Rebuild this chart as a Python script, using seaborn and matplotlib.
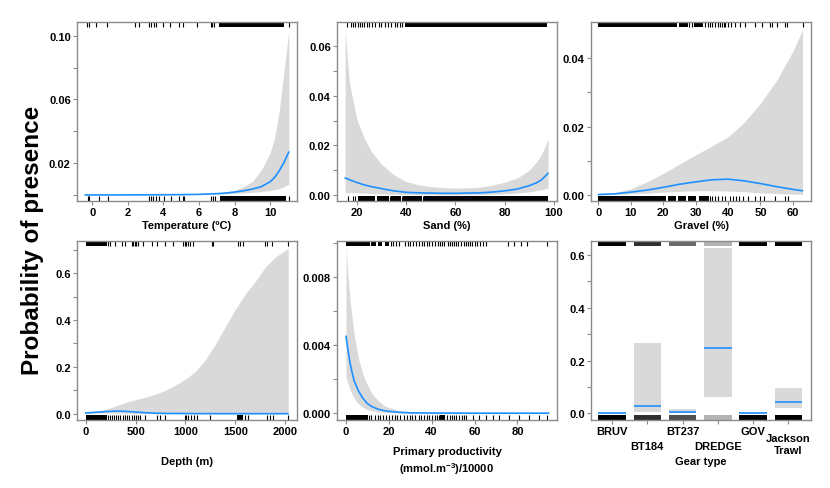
import matplotlib
matplotlib.use("Agg")
import matplotlib.pyplot as plt
import seaborn as sns

# ---- Temperature ----
temp_x = [-0.4, 1, 3, 5, 6, 7, 7.5, 8, 8.5, 9, 9.5, 10, 10.25, 10.5, 10.75, 11.05]
temp_fit = [0.0, 0.0, 0.0001, 0.0002, 0.0004, 0.0008, 0.0012, 0.0018, 0.0026, 0.0037,
            0.0052, 0.0083, 0.0110, 0.0150, 0.0198, 0.0270]
temp_lo = [0.0, 0.0, 0.0, 0.0001, 0.0002, 0.0005, 0.0007, 0.0010, 0.0013, 0.0017,
           0.0021, 0.0028, 0.0034, 0.0040, 0.0050, 0.0068]
temp_hi = [0.0001, 0.0001, 0.0002, 0.0004, 0.0007, 0.0011, 0.0017, 0.0029, 0.0052, 0.0085,
           0.0155, 0.0265, 0.0360, 0.0520, 0.0750, 0.1030]
temp_rug_top = [-0.3, -0.2, 0.2, 0.8, 2.4, 2.65, 3.2, 3.3, 3.45, 3.6, 3.95, 4.35, 4.9, 5.1,
                5.9, 6.65, 6.75, 6.85, 11.05]
temp_blk_top = [(7.15, 10.8)]
temp_rug_bot = [-0.26, -0.17, 0.39, 0.86, 3.2, 3.3, 3.39, 3.58, 3.77, 4.05, 4.42, 4.89,
                5.08, 5.17, 6.67, 6.76, 6.91, 11.05]
temp_blk_bot = [(7.18, 10.88)]

# ---- Sand ----
sand_x = [15.3, 17, 20, 23, 26, 30, 35, 40, 45, 50, 55, 60, 65, 70, 75, 80, 85, 90, 93, 95, 97.6]
sand_fit = [0.0069, 0.0062, 0.0051, 0.0041, 0.0034, 0.0026, 0.0017, 0.0011, 0.0009, 0.0008,
            0.0007, 0.0007, 0.0008, 0.0009, 0.0012, 0.0017, 0.0024, 0.0038, 0.0050, 0.0062, 0.0088]
sand_lo = [0.0010, 0.0010, 0.0009, 0.0008, 0.0006, 0.0005, 0.0003, 0.0002, 0.0001, 0.0001,
           0.0001, 0.0001, 0.0001, 0.0002, 0.0003, 0.0005, 0.0008, 0.0013, 0.0018, 0.0021, 0.0028]
sand_hi = [0.0663, 0.0455, 0.0307, 0.0230, 0.0175, 0.0125, 0.0082, 0.0054, 0.0042, 0.0034,
           0.0030, 0.0028, 0.0029, 0.0032, 0.0040, 0.0052, 0.0068, 0.0100, 0.0135, 0.0165, 0.0226]
sand_rug_top = [16.2, 17.5, 18.5, 19.5, 20.5, 21.5, 22, 23, 24, 25, 26, 27.5, 29, 30, 31.5,
                32.5, 34, 35.5, 36.5, 37.5, 38.5]
sand_blk_top = [(39.5, 97.0)]
sand_rug_bot = [16.5, 18.5, 19.5, 28.2, 33.6, 38.4, 47.0]
sand_blk_bot = [(20.5, 27.6), (28.4, 33.1), (33.9, 38.0), (38.8, 46.5), (47.3, 97.5)]

# ---- Gravel ----
grav_x = [0, 5, 10, 15, 20, 25, 30, 35, 40, 45, 50, 55, 60, 63]
grav_fit = [0.0001, 0.0003, 0.0008, 0.0014, 0.0022, 0.0031, 0.0038, 0.0044, 0.0046, 0.0041,
            0.0033, 0.0024, 0.0016, 0.0012]
grav_lo = [0.0, 0.0001, 0.0003, 0.0005, 0.0008, 0.0010, 0.0012, 0.0012, 0.0011, 0.0009,
           0.0006, 0.0004, 0.0002, 0.0001]
grav_hi = [0.0001, 0.0006, 0.0018, 0.0038, 0.0063, 0.0090, 0.0117, 0.0143, 0.0170, 0.0212,
           0.0268, 0.0335, 0.0420, 0.0483]
grav_rug_top = [28, 28.9, 33, 33.9, 34.5, 35, 36, 37, 37.5, 38.1, 38.6, 39.1, 40.1, 41, 42.2,
                43.7, 45.3, 48.4, 50.4, 53, 53.5, 55, 57.6, 58.1, 63]
grav_blk_top = [(0, 24.3), (24.8, 27.5), (29.6, 32.4)]
grav_rug_bot = [34.5, 35, 36, 37, 38, 39, 40.5, 41.5, 42.5, 43.5, 44.5, 46.3, 48.4, 49.9,
                51, 54.6, 57.6, 58.4]
grav_blk_bot = [(0, 21.0), (21.5, 24.0), (24.5, 27.0), (27.5, 30.0), (31.0, 34.0)]

# ---- Depth ----
depth_x = [0, 100, 200, 300, 400, 500, 600, 700, 800, 900, 1000, 1100, 1200, 1300, 1400,
           1500, 1600, 1700, 1800, 1900, 2030]
depth_fit = [0.003, 0.006, 0.009, 0.011, 0.010, 0.007, 0.004, 0.002, 0.001, 0.001, 0.0005,
             0.0003, 0.0002, 0.0001, 0.0, 0.0, 0.0, 0.0, 0.0, 0.0, 0.0]
depth_lo = [0.001, 0.002, 0.003, 0.003, 0.002, 0.001, 0.0005, 0.0, 0.0, 0.0, 0.0, 0.0, 0.0,
            0.0, 0.0, 0.0, 0.0, 0.0, 0.0, 0.0, 0.0]
depth_hi = [0.003, 0.008, 0.018, 0.033, 0.048, 0.060, 0.070, 0.083, 0.100, 0.122, 0.148,
            0.180, 0.230, 0.297, 0.372, 0.445, 0.510, 0.565, 0.625, 0.668, 0.705]
depth_rug_top = [227, 243, 293, 360, 394, 460, 475, 490, 505, 527, 577, 661, 711, 795, 878,
                 978, 995, 1010, 1030, 1050, 1078, 1262, 1279, 1529, 1546, 1579, 1796, 1813,
                 1863, 2030]
depth_blk_top = [(0, 210)]
depth_rug_bot = [227, 243, 260, 280, 300, 320, 345, 370, 390, 410, 430, 460, 480, 500, 520,
                 544, 594, 711, 745, 795, 995, 1010, 1030, 1060, 1090, 1112, 1246, 1600, 1630,
                 1813, 1846, 1880, 2030]
depth_blk_bot = [(0, 210), (1520, 1580)]

# ---- Primary productivity ----
pp_x = [0.2, 1, 2, 3, 4, 5, 6, 8, 10, 12, 15, 18, 20, 25, 30, 40, 60, 80, 94.6]
pp_fit = [0.00452, 0.0038, 0.0030, 0.0024, 0.0019, 0.0016, 0.0013, 0.00088, 0.00058, 0.00040,
          0.00024, 0.00015, 0.00011, 0.00005, 0.00002, 0.00001, 0.0, 0.0, 0.0]
pp_lo = [0.0021, 0.0018, 0.0014, 0.0011, 0.0009, 0.0007, 0.00055, 0.00035, 0.00022, 0.00014,
         0.00007, 0.00004, 0.00003, 0.00001, 0.0, 0.0, 0.0, 0.0, 0.0]
pp_hi = [0.0097, 0.0082, 0.0067, 0.0056, 0.0046, 0.0039, 0.0032, 0.0023, 0.0017, 0.0012,
         0.00075, 0.00045, 0.00034, 0.00016, 0.00008, 0.00003, 0.00001, 0.0, 0.0]
pp_rug_top = [21, 22, 23.5, 25, 27.5, 29, 30, 31.5, 33, 34, 35.5, 36.5, 38, 39, 40, 41.5, 43,
              44, 45, 46, 47.5, 48.5, 49.5, 50.5, 51.5, 52.5, 53.5, 55, 56, 57, 58, 59, 60,
              61, 62.5, 64, 65.5, 75.4, 78.4, 81.6, 84.6, 93.9]
pp_blk_top = [(0, 11.3), (12, 14), (15, 17), (18.5, 20)]
pp_rug_bot = [11, 12, 13.5, 15, 16, 17.5, 19, 20, 21.5, 23, 24, 25.5, 27, 28.5, 30, 31, 32.5,
              34, 35, 36.5, 38, 39, 40, 41.5, 42.5, 43.5, 45, 46, 47, 48.5, 49.5, 50.5, 51.5,
              53, 54, 55, 56, 59.2, 62.2, 65.3, 68.4, 71.5, 76.1, 80.8, 85.4, 90, 93.9]
pp_blk_bot = [(0, 10.2), (44, 46.5)]

# ---- Gear type ----
gear_types = ["BRUV", "BT184", "BT237", "DREDGE", "GOV", "Jackson\nTrawl"]
gear_fit = [0.001, 0.029, 0.004, 0.246, 0.002, 0.045]
gear_lo = [0.0, 0.004, 0.0, 0.061, 0.0, 0.021]
gear_hi = [0.006, 0.268, 0.016, 0.627, 0.006, 0.098]
gear_rug_top = ['black', '#303030', '#6a6a6a', '#b4b4b4', 'black', 'black']
gear_rug_bot = ['black', '#303030', '#505050', '#b4b4b4', 'black', 'black']

LINE = '#1E90FF'
BAND = '#D9D9D9'
FRAME = '#8a8a8a'
RUG_H = 0.028

sns.set_style("white")
plt.rcParams['font.family'] = ['Liberation Sans', 'DejaVu Sans']
plt.rcParams['font.weight'] = 'bold'
plt.rcParams['text.color'] = 'black'
plt.rcParams['axes.labelcolor'] = 'black'
plt.rcParams['mathtext.fontset'] = 'custom'
plt.rcParams['mathtext.rm'] = 'Liberation Sans:bold'
plt.rcParams['mathtext.bf'] = 'Liberation Sans:bold'


def style_axes(ax, xlim, xticks, ylim, yticks, ylabels, label_y):
    ax.set_xlim(*xlim)
    ax.set_ylim(*ylim)
    if xticks is not None:
        ax.set_xticks(xticks)
        ax.set_xticklabels([str(t) for t in xticks])
    ax.set_yticks(yticks)
    ax.set_yticklabels(ylabels)
    for sp in ax.spines.values():
        sp.set_visible(True)
        sp.set_color(FRAME)
        sp.set_linewidth(1.0)
    ax.tick_params(axis='both', direction='out', length=3, width=0.8, color=FRAME,
                   labelsize=8, labelcolor='black', pad=1.5)
    ax.tick_params(top=False, right=False, left=True, bottom=True)
    for lab in ax.get_xticklabels() + ax.get_yticklabels():
        lab.set_fontweight('bold')
    ax.xaxis.set_label_coords(0.5, label_y)
    ax.xaxis.label.set_va('center')
    ax.set_ylabel('')


def draw_rug(ax, ticks, blocks, top):
    y0, y1 = (1 - RUG_H, 1) if top else (0, RUG_H)
    ax.vlines(ticks, y0, y1, transform=ax.get_xaxis_transform(), color='black', lw=0.8)
    for a, b in blocks:
        ax.axvspan(a, b, ymin=y0, ymax=y1, color='black', lw=0)


def plot_term(ax, x, fit, lo, hi, rug_top, blk_top, rug_bot, blk_bot):
    ax.fill_between(x, lo, hi, color=BAND, lw=0)
    sns.lineplot(x=x, y=fit, ax=ax, color=LINE, lw=1.2)
    draw_rug(ax, rug_top, blk_top, True)
    draw_rug(ax, rug_bot, blk_bot, False)


fig = plt.figure(figsize=(8.3, 4.89), dpi=100)
lefts = [77 / 830, 337 / 830, 591 / 830]
width = 220 / 830
bottoms = [1 - 202 / 489, 1 - 421 / 489]
height = 179 / 489
axs = [[fig.add_axes([l, b, width, height]) for l in lefts] for b in bottoms]
TOP_LAB = (202 - 226) / 179
BOT_LAB = (421 - 462) / 179

# Temperature
ax = axs[0][0]
plot_term(ax, temp_x, temp_fit, temp_lo, temp_hi, temp_rug_top, temp_blk_top,
          temp_rug_bot, temp_blk_bot)
ax.set_xlabel('Temperature (ºC)', fontsize=8, fontweight='bold')
style_axes(ax, (-0.86, 11.51), [0, 2, 4, 6, 8, 10], (-0.0038, 0.1087),
           [0, 0.02, 0.04, 0.06, 0.08, 0.10], ['', '0.02', '', '0.06', '', '0.10'], TOP_LAB)

# Sand
ax = axs[0][1]
plot_term(ax, sand_x, sand_fit, sand_lo, sand_hi, sand_rug_top, sand_blk_top,
          sand_rug_bot, sand_blk_bot)
ax.set_xlabel('Sand (%)', fontsize=8, fontweight='bold')
style_axes(ax, (12.0, 101.2), [20, 40, 60, 80, 100], (-0.0024, 0.0698),
           [0, 0.01, 0.02, 0.03, 0.04, 0.05, 0.06],
           ['0.00', '', '0.02', '', '0.04', '', '0.06'], TOP_LAB)

# Gravel
ax = axs[0][2]
plot_term(ax, grav_x, grav_fit, grav_lo, grav_hi, grav_rug_top, grav_blk_top,
          grav_rug_bot, grav_blk_bot)
ax.set_xlabel('Gravel (%)', fontsize=8, fontweight='bold')
style_axes(ax, (-2.3, 65.6), [0, 10, 20, 30, 40, 50, 60], (-0.0018, 0.0506),
           [0, 0.01, 0.02, 0.03, 0.04], ['0.00', '', '0.02', '', '0.04'], TOP_LAB)

# Depth
ax = axs[1][0]
plot_term(ax, depth_x, depth_fit, depth_lo, depth_hi, depth_rug_top, depth_blk_top,
          depth_rug_bot, depth_blk_bot)
ax.set_xlabel('Depth (m)', fontsize=8, fontweight='bold')
style_axes(ax, (-87, 2118), [0, 500, 1000, 1500, 2000], (-0.027, 0.737),
           [0, 0.1, 0.2, 0.3, 0.4, 0.5, 0.6, 0.7],
           ['0.0', '', '0.2', '', '0.4', '', '0.6', ''], BOT_LAB)

# Primary productivity
ax = axs[1][1]
plot_term(ax, pp_x, pp_fit, pp_lo, pp_hi, pp_rug_top, pp_blk_top, pp_rug_bot, pp_blk_bot)
ax.set_xlabel('Primary productivity\n(mmol.m$^{-3}$)/10000', fontsize=8,
              fontweight='bold', linespacing=1.3)
style_axes(ax, (-4.0, 98.4), [0, 20, 40, 60, 80], (-0.0004, 0.0101),
           [0, 0.002, 0.004, 0.006, 0.008, 0.010],
           ['0.000', '', '0.004', '', '0.008', ''], BOT_LAB)

# Gear type
ax = axs[1][2]
pos = list(range(len(gear_types)))
hw = 0.39
heights = [h - l for h, l in zip(gear_hi, gear_lo)]
ax.bar(pos, heights, bottom=gear_lo, width=2 * hw, color=BAND, lw=0)
ax.hlines(gear_fit, [p - hw for p in pos], [p + hw for p in pos], color=LINE, lw=1.2)
for p, ct, cb in zip(pos, gear_rug_top, gear_rug_bot):
    ax.axvspan(p - hw, p + hw, ymin=1 - RUG_H, ymax=1, color=ct, lw=0)
    ax.axvspan(p - hw, p + hw, ymin=0, ymax=RUG_H, color=cb, lw=0)
ax.set_xlabel('Gear type', fontsize=8, fontweight='bold')
ax.set_xticks(pos)
style_axes(ax, (-0.6, 5.64), None, (-0.025, 0.653), [0, 0.1, 0.2, 0.3, 0.4, 0.5, 0.6],
           ['0.0', '', '0.2', '', '0.4', '', '0.6'], BOT_LAB)
ax.set_xticklabels(gear_types, fontweight='bold', fontsize=8)
pads = [1.5, 12, 1.5, 12, 1.5, 6.5]
for tick, pd_ in zip(ax.xaxis.get_major_ticks(), pads):
    tick.set_pad(pd_)

fig.text(32 / 830, 1 - 240 / 489, 'Probability of presence', rotation=90,
         fontsize=17.5, fontweight='bold', ha='center', va='center')

fig.savefig('out.png', dpi=100)
